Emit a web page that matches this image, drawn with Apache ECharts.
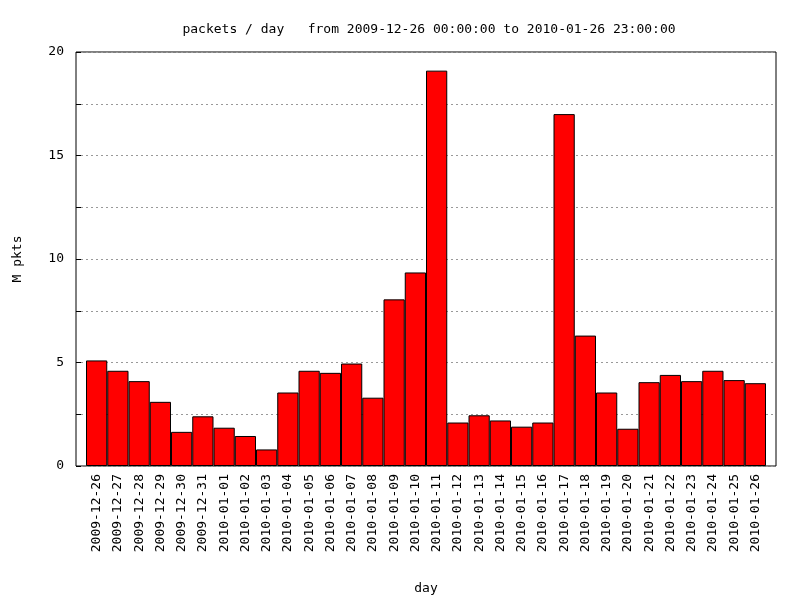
<!DOCTYPE html>
<html>
<head>
<meta charset="utf-8">
<script src="https://cdn.jsdelivr.net/npm/echarts@6/dist/echarts.min.js"></script>
<style>html,body{margin:0;background:#fff}#c{width:800px;height:600px}</style>
</head>
<body>
<div id="c"></div>
<script>
const days = ['2009-12-26','2009-12-27','2009-12-28','2009-12-29','2009-12-30','2009-12-31',
  '2010-01-01','2010-01-02','2010-01-03','2010-01-04','2010-01-05','2010-01-06','2010-01-07',
  '2010-01-08','2010-01-09','2010-01-10','2010-01-11','2010-01-12','2010-01-13','2010-01-14',
  '2010-01-15','2010-01-16','2010-01-17','2010-01-18','2010-01-19','2010-01-20','2010-01-21',
  '2010-01-22','2010-01-23','2010-01-24','2010-01-25','2010-01-26']
const packets = [5.1,4.6,4.1,3.1,1.65,2.4,1.85,1.45,0.8,3.55,4.6,4.5,4.95,3.3,8.05,9.35,19.1,
  2.1,2.45,2.2,1.9,2.1,17.0,6.3,3.55,1.8,4.05,4.4,4.1,4.6,4.15,4.0]
const yTicks = [0, 5, 10, 15, 20]

const font = 'DejaVu Sans Mono'
const chart = echarts.init(document.getElementById('c'))
chart.setOption({
  animation: false,
  textStyle: { fontFamily: font },
  title: {
    text: 'packets / day   from 2009-12-26 00:00:00 to 2010-01-26 23:00:00',
    left: 424, top: 18, textAlign: 'center',
    textStyle: { fontFamily: font, fontSize: 13, fontWeight: 'normal', color: '#000' }
  },
  grid: [
    { left: 76, right: 24, top: 52, bottom: 134, show: true, borderColor: '#000', borderWidth: 1 },
    { left: 86, right: 34, top: 52, bottom: 134 }
  ],
  xAxis: [
    { gridIndex: 0, type: 'value', show: false, min: 0, max: 1 },
    {
      gridIndex: 1, type: 'category', data: days,
      name: 'day', nameLocation: 'middle', nameGap: 116,
      nameTextStyle: { fontFamily: font, fontSize: 13, color: '#000' },
      axisLine: { show: false },
      axisTick: { inside: true, alignWithLabel: true, length: 6, lineStyle: { color: '#000' } },
      axisLabel: { rotate: 90, interval: 0, fontFamily: font, fontSize: 13, color: '#000', margin: 8 }
    }
  ],
  yAxis: [
    {
      gridIndex: 0, type: 'value', min: 0, max: 20, interval: 2.5,
      name: 'M pkts', nameLocation: 'middle', nameGap: 52,
      nameTextStyle: { fontFamily: font, fontSize: 13, color: '#000' },
      axisLine: { show: false },
      axisTick: { inside: true, length: 5, lineStyle: { color: '#000' } },
      axisLabel: {
        fontFamily: font, fontSize: 13, color: '#000', margin: 12,
        formatter: v => yTicks.includes(v) ? String(v) : ''
      },
      splitLine: { show: true, lineStyle: { type: [2, 3], color: '#999' } }
    },
    { gridIndex: 1, type: 'value', min: 0, max: 20, show: false }
  ],
  series: [{
    type: 'bar', xAxisIndex: 1, yAxisIndex: 1, data: packets,
    barWidth: '100%', barGap: 0,
    itemStyle: { color: '#ff0000', borderColor: '#000', borderWidth: 1 }
  }]
})
</script>
</body>
</html>
